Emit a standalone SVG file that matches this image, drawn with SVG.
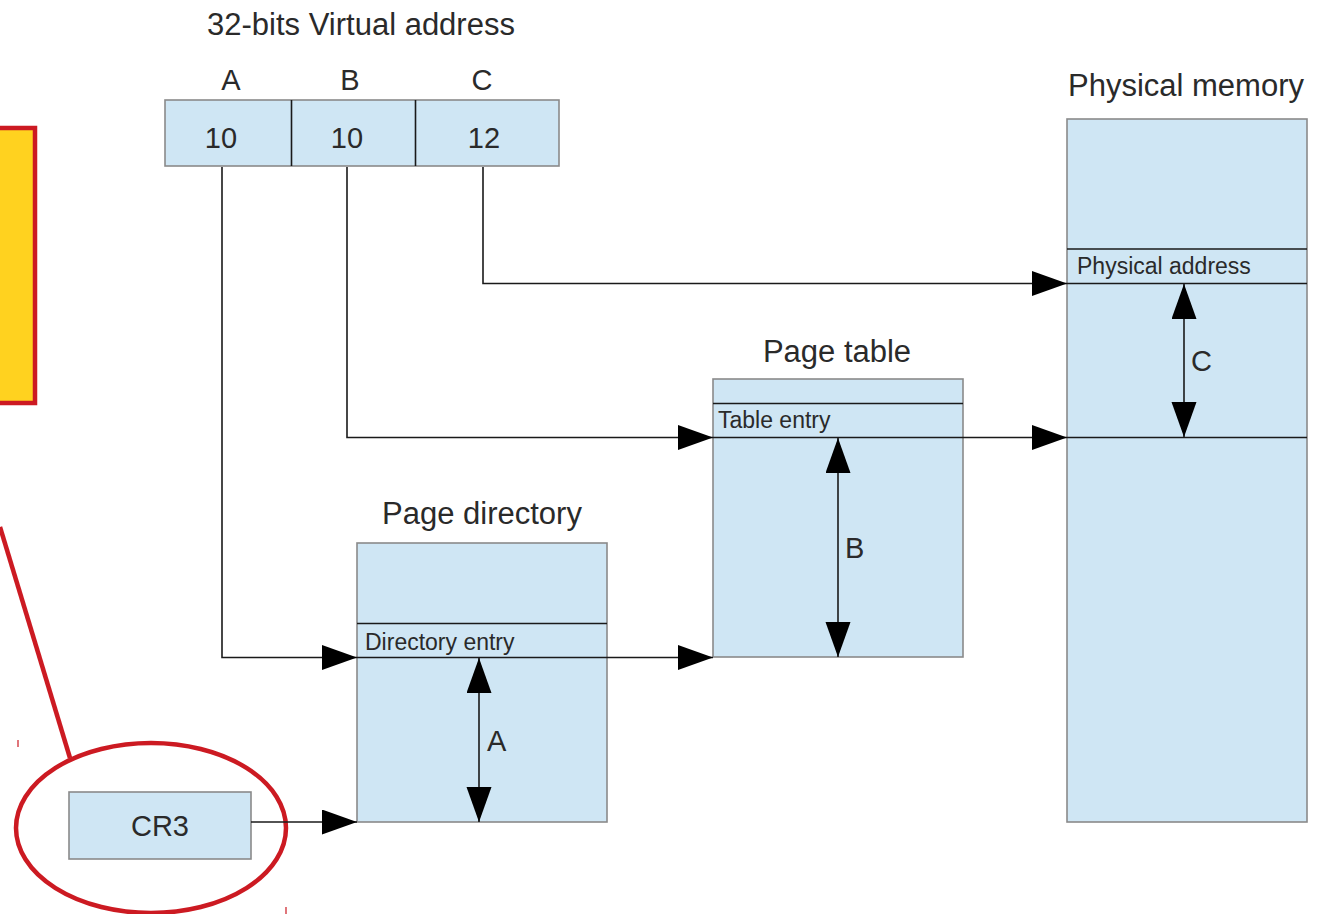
<svg xmlns="http://www.w3.org/2000/svg" width="1326" height="914" viewBox="0 0 1326 914">
<defs>
<style>
.box{fill:#cfe6f4;stroke:#8a8a8a;stroke-width:1.6}
.ln{fill:none;stroke:#1a1a1a;stroke-width:1.6}
.t{font-family:"Liberation Sans",Arial,sans-serif;fill:#2a2a2a}
.big{font-size:31px}
.mid{font-size:29px}
.sm{font-size:23px}
.red{fill:none;stroke:#cc1a22;stroke-width:4.5}
</style>
<marker id="ah" markerUnits="userSpaceOnUse" markerWidth="36" markerHeight="26" refX="35" refY="12.5" orient="auto">
<path d="M0,0 L35,12.5 L0,25 Z" fill="#000"/>
</marker>
</defs>
<rect width="1326" height="914" fill="#fff"/>

<g id="highlight">
<rect x="-10" y="128" width="45" height="275" fill="#ffd21f" stroke="#cc1a22" stroke-width="4.5"/>
<line x1="0" y1="527" x2="70" y2="758" class="red"/>
<ellipse cx="151" cy="828" rx="135" ry="85" class="red"/>
<line x1="18" y1="740" x2="18" y2="747" stroke="#cc1a22" stroke-width="1.2"/>
<line x1="286" y1="907" x2="286" y2="914" stroke="#cc1a22" stroke-width="1.2"/>
</g>

<g id="vaddr">
<text x="361" y="35" text-anchor="middle" class="t big">32-bits Virtual address</text>
<text x="231" y="90" text-anchor="middle" class="t mid">A</text>
<text x="350" y="90" text-anchor="middle" class="t mid">B</text>
<text x="482" y="90" text-anchor="middle" class="t mid">C</text>
<rect x="165" y="100" width="394" height="66" class="box"/>
<line x1="291.5" y1="100" x2="291.5" y2="166" class="ln"/>
<line x1="415.5" y1="100" x2="415.5" y2="166" class="ln"/>
<text x="221" y="148" text-anchor="middle" class="t mid">10</text>
<text x="347" y="148" text-anchor="middle" class="t mid">10</text>
<text x="484" y="148" text-anchor="middle" class="t mid">12</text>
</g>

<g id="cr3">
<rect x="69" y="792" width="182" height="67" class="box"/>
<text x="160" y="836" text-anchor="middle" class="t mid">CR3</text>
</g>

<g id="pagedir">
<text x="482" y="524" text-anchor="middle" class="t big">Page directory</text>
<rect x="357" y="543" width="250" height="279" class="box"/>
<line x1="357" y1="623.5" x2="607" y2="623.5" class="ln"/>
<text x="365" y="650" class="t sm">Directory entry</text>
<text x="487" y="751" class="t mid">A</text>
</g>

<g id="pagetable">
<text x="837" y="362" text-anchor="middle" class="t big">Page table</text>
<rect x="713" y="379" width="250" height="278" class="box"/>
<line x1="713" y1="403.5" x2="963" y2="403.5" class="ln"/>
<text x="718" y="428" class="t sm">Table entry</text>
<text x="845" y="558" class="t mid">B</text>
</g>

<g id="physmem">
<text x="1186" y="96" text-anchor="middle" class="t big">Physical memory</text>
<rect x="1067" y="119" width="240" height="703" class="box"/>
<line x1="1067" y1="249" x2="1307" y2="249" class="ln"/>
<text x="1077" y="274" class="t sm">Physical address</text>
<text x="1191" y="371" class="t mid">C</text>
</g>

<g id="connectors">
<path d="M222,167 V657.5 H357" class="ln" marker-end="url(#ah)"/>
<path d="M357,657.5 H713" class="ln" marker-end="url(#ah)"/>
<path d="M347,167 V437.5 H713" class="ln" marker-end="url(#ah)"/>
<path d="M713,437.5 H1067" class="ln" marker-end="url(#ah)"/>
<path d="M1067,437.5 H1307" class="ln"/>
<path d="M483,167 V283.5 H1067" class="ln" marker-end="url(#ah)"/>
<path d="M1067,283.5 H1307" class="ln"/>
<path d="M251,822 H357" class="ln" marker-end="url(#ah)"/>
<path d="M479,740 V658" class="ln" marker-end="url(#ah)"/>
<path d="M479,740 V822" class="ln" marker-end="url(#ah)"/>
<path d="M838,547 V438" class="ln" marker-end="url(#ah)"/>
<path d="M838,547 V657" class="ln" marker-end="url(#ah)"/>
<path d="M1184,360 V284" class="ln" marker-end="url(#ah)"/>
<path d="M1184,360 V437" class="ln" marker-end="url(#ah)"/>
</g>
</svg>
